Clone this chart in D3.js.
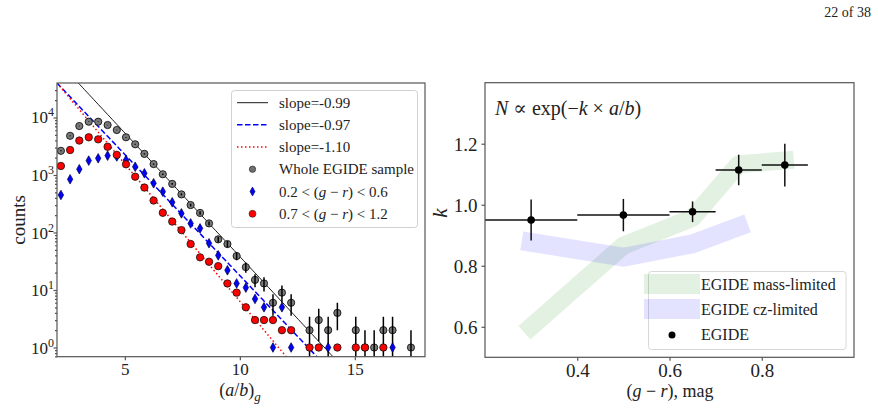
<!DOCTYPE html>
<html>
<head>
<meta charset="utf-8">
<title>EGIDE axis ratio distribution</title>
<script src="https://d3js.org/d3.v7.min.js"></script>
<style>
  body { margin: 0; background: #fff; }
  .ax path, .ax line { stroke: #555; stroke-width: 1.2; }
</style>
</head>
<body>
<svg id="chart" width="878" height="412"></svg>
<script>
// ---- left panel: histogram of (a/b)_g ----
const binCenters = [2.22, 2.62, 3.02, 3.43, 3.84, 4.25, 4.65, 5.05, 5.45, 5.85, 6.25, 6.65, 7.06, 7.46, 7.86,
  8.27, 8.66, 9.06, 9.46, 9.86, 10.26, 10.66, 11.05, 11.44, 11.83, 12.23, 12.63, 13.03, 13.43, 13.84,
  14.24, 14.64, 15.04, 15.44, 15.84, 16.24, 16.64, 17.04, 17.44];
const countsAll = [2630, 4800, 7100, 8450, 8450, 7400, 6060, 4530, 3420, 2330, 1550, 1030, 700, 460, 300,
  219, 144, 76, 63, 39, 25, 15, 13, 6, 9, 6, null, 2, 3, 2, 4, null, 2, 1, 1, 2, 2, null, 1];
const countsBlue = [449, 842, 1260, 1780, 1950, 2170, 2100, 1820, 1390, 1070, 718, 513, 335, 215, 144,
  118, 65, 40, 22, 13, 11, 7, 5, 1, 5, 1, null, null, null, 1, null, null, null, null, null, null, 1, null, null];
const countsRed = [1435, 2720, 3970, 4530, 4170, 3100, 2240, 1535, 935, 605, 360, 220, 155, 110, 63,
  37, 31, 26, 13, 9, 5, 3, 3, 3, 2, 2, null, 1, 1, null, 1, null, 1, 1, null, 1, null, null, null];
// exponential fits N = A exp(-k x)  (ln A, k)
const fitNames = ["slope=-0.99", "slope=-0.97", "slope=-1.10"];
const fitLnA = [13.54, 12.58, 12.85];
const fitK = [0.99, 0.97, 1.10];
const sampleNames = ["Whole EGIDE sample", "0.2 < (g − r) < 0.6", "0.7 < (g − r) < 1.2"];

// ---- right panel: k vs colour ----
const colCenters = [0.3, 0.5, 0.65, 0.75, 0.85];
const colLo = [0.2, 0.4, 0.6, 0.7, 0.8];
const colHi = [0.4, 0.6, 0.7, 0.8, 0.9];
const kVal = [0.95, 0.966, 0.977, 1.114, 1.13];
const kErr = [0.067, 0.053, 0.034, 0.05, 0.07];
const massX = [0.3, 0.5, 0.65, 0.75, 0.85];
const massK = [0.60, 0.866, 0.957, 1.133, 1.145];
const czX = [0.3, 0.5, 0.65, 0.75];
const czK = [0.877, 0.828, 0.872, 0.928];

const FONT = "'Liberation Serif', 'DejaVu Serif', serif";
const svg = d3.select("#chart");

svg.append("text").attr("x", 871).attr("y", 17).attr("text-anchor", "end")
  .style("font-size", "14px").text("22 of 38");

// helper: write math-like text with italic pieces
function mathText(sel, parts) {
  parts.forEach(p => {
    const t = sel.append("tspan").text(p[0]);
    if (p[1] === "i") t.style("font-style", "italic");
    if (p[1] === "sub") t.style("font-style", "italic").attr("dy", 5).style("font-size", "72%");
  });
  return sel;
}

// ================= LEFT =================
const L = { x0: 57, x1: 425, y0: 83, y1: 356.7 };
const xL = d3.scaleLinear().domain([2.05, 18.05]).range([L.x0, L.x1]);
const yL = d3.scaleLog().domain([0.692, 39800]).range([L.y1, L.y0]);

svg.append("defs").append("clipPath").attr("id", "clipL")
  .append("rect").attr("x", L.x0).attr("y", L.y0).attr("width", L.x1 - L.x0).attr("height", L.y1 - L.y0);

const gL = svg.append("g");
const plotL = gL.append("g").attr("clip-path", "url(#clipL)");

// fit lines
const fitStyle = [
  { c: "#000", w: 0.9, d: null },
  { c: "#0000ff", w: 1.5, d: "5.5,2.5" },
  { c: "#ff0000", w: 1.5, d: "1.5,2.5" }
];
const xs = d3.range(2.05, 18.06, 0.1);
fitK.forEach((k, i) => {
  const line = d3.line().x(d => xL(d)).y(d => yL(Math.exp(fitLnA[i] - k * d)));
  plotL.append("path").attr("d", line(xs)).attr("fill", "none")
    .attr("stroke", fitStyle[i].c).attr("stroke-width", fitStyle[i].w)
    .attr("stroke-dasharray", fitStyle[i].d);
});

// whole sample: grey circles with Poisson error bars
const allPts = binCenters.map((x, i) => ({ x, n: countsAll[i] })).filter(d => d.n);
plotL.selectAll(".ptA").data(allPts).join("circle").attr("class", "ptA")
  .attr("cx", d => xL(d.x)).attr("cy", d => yL(d.n)).attr("r", 3.6)
  .attr("fill", "#7a7a7a").attr("stroke", "#111").attr("stroke-width", 0.9);
plotL.selectAll(".errA").data(allPts).join("line").attr("class", "errA")
  .attr("x1", d => xL(d.x)).attr("x2", d => xL(d.x))
  .attr("y1", d => yL(d.n + Math.sqrt(d.n)))
  .attr("y2", d => (d.n - Math.sqrt(d.n)) > 0.3 ? yL(d.n - Math.sqrt(d.n)) : L.y1 + 5)
  .attr("stroke", "#000").attr("stroke-width", 1.5);

// blue thin diamonds
const diamond = (cx, cy) => `M${cx},${cy - 4.8}L${cx + 2.7},${cy}L${cx},${cy + 4.8}L${cx - 2.7},${cy}Z`;
const bluePts = binCenters.map((x, i) => ({ x, n: countsBlue[i] })).filter(d => d.n);
plotL.selectAll(".ptB").data(bluePts).join("path").attr("class", "ptB")
  .attr("d", d => diamond(xL(d.x), yL(d.n)))
  .attr("fill", "#0000ff").attr("stroke", "#000040").attr("stroke-width", 0.7);

// red circles
const redPts = binCenters.map((x, i) => ({ x, n: countsRed[i] })).filter(d => d.n);
plotL.selectAll(".ptR").data(redPts).join("circle").attr("class", "ptR")
  .attr("cx", d => xL(d.x)).attr("cy", d => yL(d.n)).attr("r", 3.7)
  .attr("fill", "#ff0000").attr("stroke", "#111").attr("stroke-width", 0.8);

// axes
const axXL = gL.append("g").attr("class", "ax").attr("transform", `translate(0,${L.y1})`)
  .call(d3.axisBottom(xL).tickValues([5, 10, 15]).tickSize(3.5).tickPadding(3));
axXL.selectAll("text").style("font-size", "17px");
axXL.select(".domain").remove();

const majors = [1, 10, 100, 1000, 10000];
const minors = [];
[0.1, 1, 10, 100, 1000, 10000].forEach(dec => d3.range(2, 10).forEach(m => {
  const v = dec * m; if (v > 0.692 && v < 39800) minors.push(v);
}));
const axYL = gL.append("g").attr("class", "ax").attr("transform", `translate(${L.x0},0)`)
  .call(d3.axisLeft(yL).tickValues(majors).tickSize(3.5).tickFormat(""));
axYL.select(".domain").remove();
const axYLm = gL.append("g").attr("class", "ax").attr("transform", `translate(${L.x0},0)`)
  .call(d3.axisLeft(yL).tickValues(minors).tickSize(2).tickFormat(""));
axYLm.select(".domain").remove();
majors.forEach((v, i) => {
  const t = gL.append("text").attr("x", 54).attr("y", yL(v) + 6).attr("text-anchor", "end")
    .style("font-size", "17px");
  t.append("tspan").text("10");
  t.append("tspan").text(String(i)).attr("dy", -7).style("font-size", "12px");
});

gL.append("rect").attr("x", L.x0).attr("y", L.y0).attr("width", L.x1 - L.x0).attr("height", L.y1 - L.y0)
  .attr("fill", "none").attr("stroke", "#555").attr("stroke-width", 1.2);

mathText(gL.append("text").attr("x", 240).attr("y", 396).attr("text-anchor", "middle").style("font-size", "18px"),
  [["(", ""], ["a", "i"], ["/", ""], ["b", "i"], [")", ""], ["g", "sub"]]);
gL.append("text").attr("transform", "translate(25,220) rotate(-90)").attr("text-anchor", "middle")
  .style("font-size", "19px").text("counts");

// left legend
const lg = gL.append("g");
lg.append("rect").attr("x", 231.5).attr("y", 90.5).attr("width", 186).attr("height", 137).attr("rx", 3)
  .attr("fill", "#fff").attr("fill-opacity", 0.85).attr("stroke", "#d0d0d0");
const rowY = [102.7, 124.8, 147, 169.2, 191.5, 213.8];
fitNames.forEach((nm, i) => {
  lg.append("line").attr("x1", 237).attr("x2", 268).attr("y1", rowY[i]).attr("y2", rowY[i])
    .attr("stroke", fitStyle[i].c).attr("stroke-width", fitStyle[i].w).attr("stroke-dasharray", fitStyle[i].d);
  lg.append("text").attr("x", 279).attr("y", rowY[i] + 5).style("font-size", "15px").text(nm);
});
lg.append("circle").attr("cx", 252.5).attr("cy", rowY[3]).attr("r", 3.2).attr("fill", "#707070").attr("stroke", "#222").attr("stroke-width", 0.6);
lg.append("path").attr("d", `M252.5,${rowY[4] - 4.5}L255,${rowY[4]}L252.5,${rowY[4] + 4.5}L250,${rowY[4]}Z`)
  .attr("fill", "#0000ff").attr("stroke", "#000040").attr("stroke-width", 0.6);
lg.append("circle").attr("cx", 252.5).attr("cy", rowY[5]).attr("r", 3.5).attr("fill", "#ff0000").attr("stroke", "#222").attr("stroke-width", 0.6);
lg.append("text").attr("x", 279).attr("y", rowY[3] + 5).style("font-size", "15px").text(sampleNames[0]);
[1, 2].forEach(j => {
  const lo = j === 1 ? "0.2" : "0.7", hi = j === 1 ? "0.6" : "1.2";
  mathText(lg.append("text").attr("x", 279).attr("y", rowY[3 + j] + 5).style("font-size", "15px"),
    [[lo + " < (", ""], ["g", "i"], [" − ", ""], ["r", "i"], [") < " + hi, ""]]);
});

// ================= RIGHT =================
const R = { x0: 485, x1: 854, y0: 82.7, y1: 357.3 };
const xR = d3.scaleLinear().domain([0.2, 1.0]).range([R.x0, R.x1]);
const yR = d3.scaleLinear().domain([0.5, 1.4]).range([R.y1, R.y0]);
const gR = svg.append("g");

const band = d3.line().x(d => xR(d[0])).y(d => yR(d[1]));
gR.append("path").attr("d", band(massX.map((x, i) => [x, massK[i]])))
  .attr("fill", "none").attr("stroke", "#008000").attr("stroke-opacity", 0.11)
  .attr("stroke-width", 18).attr("stroke-linecap", "square").attr("stroke-linejoin", "round");
gR.append("path").attr("d", band(czX.map((x, i) => [x, czK[i]])))
  .attr("fill", "none").attr("stroke", "#0000ff").attr("stroke-opacity", 0.11)
  .attr("stroke-width", 19).attr("stroke-linecap", "square").attr("stroke-linejoin", "round");

const kPts = colCenters.map((x, i) => ({ x, lo: colLo[i], hi: colHi[i], k: kVal[i], e: kErr[i] }));
gR.selectAll(".hx").data(kPts).join("line").attr("class", "hx")
  .attr("x1", d => xR(d.lo)).attr("x2", d => xR(d.hi)).attr("y1", d => yR(d.k)).attr("y2", d => yR(d.k))
  .attr("stroke", "#111").attr("stroke-width", 1.5);
gR.selectAll(".vy").data(kPts).join("line").attr("class", "vy")
  .attr("x1", d => xR(d.x)).attr("x2", d => xR(d.x)).attr("y1", d => yR(d.k - d.e)).attr("y2", d => yR(d.k + d.e))
  .attr("stroke", "#111").attr("stroke-width", 1.5);
gR.selectAll(".kp").data(kPts).join("circle").attr("class", "kp")
  .attr("cx", d => xR(d.x)).attr("cy", d => yR(d.k)).attr("r", 3.8).attr("fill", "#000");

const axXR = gR.append("g").attr("class", "ax").attr("transform", `translate(0,${R.y1})`)
  .call(d3.axisBottom(xR).tickValues([0.4, 0.6, 0.8]).tickSize(3.5).tickPadding(3).tickFormat(d3.format(".1f")));
axXR.selectAll("text").style("font-size", "19px");
axXR.select(".domain").remove();
const axYR = gR.append("g").attr("class", "ax").attr("transform", `translate(${R.x0},0)`)
  .call(d3.axisLeft(yR).tickValues([0.6, 0.8, 1.0, 1.2]).tickSize(3.5).tickPadding(4).tickFormat(d3.format(".1f")));
axYR.selectAll("text").style("font-size", "19px").attr("dy", "0.36em");
axYR.select(".domain").remove();

gR.append("rect").attr("x", R.x0).attr("y", R.y0).attr("width", R.x1 - R.x0).attr("height", R.y1 - R.y0)
  .attr("fill", "none").attr("stroke", "#555").attr("stroke-width", 1.2);

mathText(gR.append("text").attr("x", 495).attr("y", 115).style("font-size", "20px"),
  [["N", "i"], [" ∝ exp(−", ""], ["k", "i"], [" × ", ""], ["a", "i"], ["/", ""], ["b", "i"], [")", ""]]);
mathText(gR.append("text").attr("x", 670).attr("y", 397).attr("text-anchor", "middle").style("font-size", "18px"),
  [["(", ""], ["g", "i"], [" − ", ""], ["r", "i"], ["), mag", ""]]);
gR.append("text").attr("transform", "translate(447,213) rotate(-90)").attr("text-anchor", "middle")
  .style("font-size", "21px").style("font-style", "italic").text("k");

// right legend
const rg = gR.append("g");
rg.append("rect").attr("x", 648.5).attr("y", 271.5).attr("width", 197.5).attr("height", 78).attr("rx", 3)
  .attr("fill", "#fff").attr("fill-opacity", 0.8).attr("stroke", "#d8d8d8");
rg.append("line").attr("x1", 654).attr("x2", 690).attr("y1", 284).attr("y2", 284)
  .attr("stroke", "#008000").attr("stroke-opacity", 0.11).attr("stroke-width", 20).attr("stroke-linecap", "square");
rg.append("line").attr("x1", 654).attr("x2", 690).attr("y1", 309).attr("y2", 309)
  .attr("stroke", "#0000ff").attr("stroke-opacity", 0.11).attr("stroke-width", 20).attr("stroke-linecap", "square");
rg.append("circle").attr("cx", 672).attr("cy", 335).attr("r", 3.5).attr("fill", "#000");
["EGIDE mass-limited", "EGIDE cz-limited", "EGIDE"].forEach((t, i) => {
  rg.append("text").attr("x", 701).attr("y", 290 + i * 25).style("font-size", "16px").text(t);
});

// one serif face for every label, including the axis tick texts
svg.selectAll("text").style("font-family", FONT).style("fill", "#222");
svg.selectAll(".ax").attr("font-family", null);
</script>
</body>
</html>
